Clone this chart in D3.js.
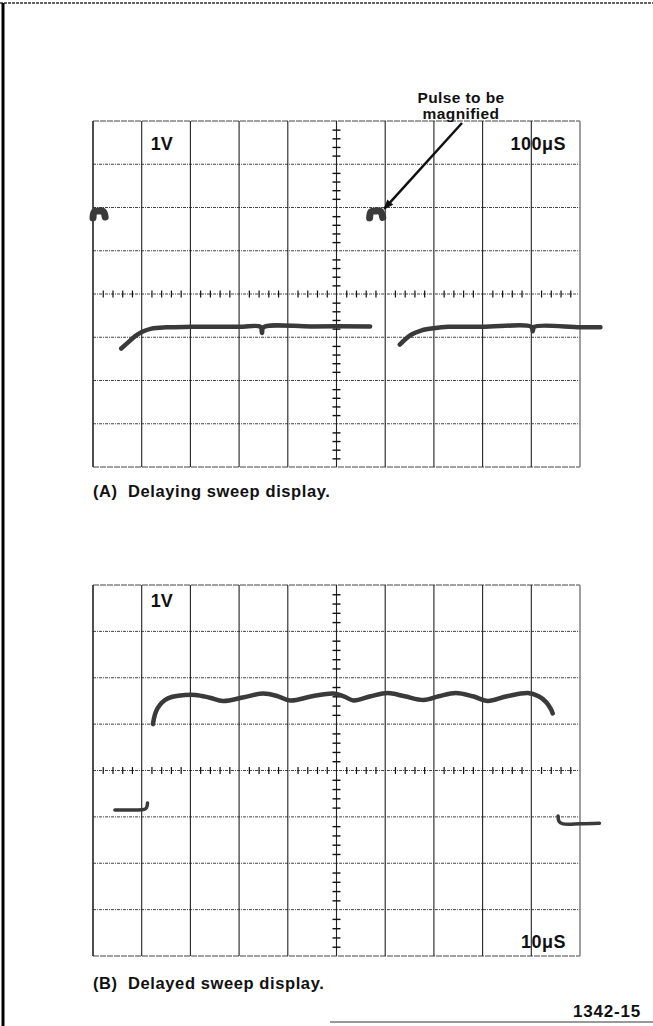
<!DOCTYPE html>
<html>
<head>
<meta charset="utf-8">
<script src="https://cdn.jsdelivr.net/npm/d3@7"></script>
<style>
	html, body { margin: 0; padding: 0; background: #fff; }
	svg { display: block; }
	text { font-family: "Liberation Sans", Arial, Helvetica, sans-serif; font-weight: bold; fill: #111; }
</style>
</head>
<body>
<div id="chart"></div>
<script>
// graticule: 10 x 8 divisions, values in divisions from screen centre
var divCols = d3.range(0, 11);
var divRows = d3.range(-4, 5);
var minorX = d3.range(-25, 26).map(function(i) { return 5 + i / 5; });
var minorY = d3.range(-20, 21).map(function(i) { return i / 5; });

// (A) delaying sweep, 1V / 100uS
var pulseA1 = [[0.00, 1.76], [0.03, 1.90], [0.12, 1.92], [0.21, 1.91], [0.25, 1.78]];
var pulseA2 = [[5.68, 1.76], [5.71, 1.90], [5.80, 1.92], [5.90, 1.91], [5.95, 1.77]];
var traceA1 = [[0.58, -1.26], [0.72, -1.12], [0.86, -0.98], [1.00, -0.88], [1.20, -0.80], [1.50, -0.77],
	[2.00, -0.76], [3.00, -0.76], [3.44, -0.76], [3.47, -0.90], [3.50, -0.77], [4.50, -0.75], [5.69, -0.75]];
var traceA2 = [[6.30, -1.17], [6.42, -1.04], [6.55, -0.93], [6.75, -0.84], [7.00, -0.79], [7.30, -0.76],
	[8.00, -0.76], [9.00, -0.76], [9.03, -0.86], [9.06, -0.76], [10.00, -0.77], [10.42, -0.77]];

// (B) delayed sweep, 1V / 10uS
var traceB = [[1.23, 1.00], [1.27, 1.20], [1.33, 1.35], [1.42, 1.47], [1.55, 1.56], [1.75, 1.61],
	[2.10, 1.63], [2.40, 1.57], [2.67, 1.50], [3.10, 1.58], [3.50, 1.66], [3.80, 1.60], [4.05, 1.51],
	[4.50, 1.60], [4.94, 1.66], [5.15, 1.60], [5.35, 1.51], [5.70, 1.60], [6.05, 1.67], [6.40, 1.60],
	[6.79, 1.52], [7.10, 1.60], [7.45, 1.67], [7.80, 1.60], [8.10, 1.50], [8.50, 1.60], [8.93, 1.67],
	[9.15, 1.60], [9.30, 1.48], [9.40, 1.33], [9.44, 1.23]];
var traceB1 = [[0.45, -0.85], [0.80, -0.85], [1.05, -0.84], [1.10, -0.80], [1.12, -0.70]];
var traceB2 = [[9.55, -0.98], [9.57, -1.10], [9.65, -1.15], [10.00, -1.15], [10.40, -1.14]];

var W = 653, H = 1026;
var svg = d3.select("#chart").append("svg").attr("width", W).attr("height", H);
svg.append("rect").attr("width", W).attr("height", H).attr("fill", "#fff");

// page frame
svg.append("line").attr("x1", 0).attr("x2", W).attr("y1", 3).attr("y2", 3)
	.attr("stroke", "#666").attr("stroke-width", 2).attr("stroke-dasharray", "3,1");
svg.append("line").attr("x1", 3).attr("x2", 3).attr("y1", 3).attr("y2", H)
	.attr("stroke", "#000").attr("stroke-width", 3);
svg.append("line").attr("x1", 330).attr("x2", W).attr("y1", 1022).attr("y2", 1022)
	.attr("stroke", "#777").attr("stroke-width", 1.5);

var lineGen = function(x, y) {
	return d3.line().curve(d3.curveCatmullRom)
		.x(function(d) { return x(d[0]); })
		.y(function(d) { return y(d[1]); });
};

function graticule(top, bottom) {
	var x = d3.scaleLinear().domain([0, 10]).range([93, 580]);
	var y = d3.scaleLinear().domain([-4, 4]).range([bottom, top]);
	var g = svg.append("g");

	g.selectAll(".hline").data(divRows).enter().append("line")
		.attr("x1", x(0)).attr("x2", x(10))
		.attr("y1", function(d) { return y(d); }).attr("y2", function(d) { return y(d); })
		.attr("stroke", "#444").attr("stroke-width", 1)
		.attr("stroke-dasharray", function(d) { return Math.abs(d) === 4 ? "6,1" : "3,1,1,1"; });

	g.selectAll(".vline").data(divCols).enter().append("line")
		.attr("y1", y(4)).attr("y2", y(-4))
		.attr("x1", function(d) { return x(d); }).attr("x2", function(d) { return x(d); })
		.attr("stroke", function(d) { return d === 10 ? "#888" : "#222"; })
		.attr("stroke-width", function(d) { return d === 0 || d === 10 ? 1.6 : 1.1; });

	// centre axes with minor ticks
	var xAxis = d3.axisBottom(x).tickValues(minorX.filter(function(v) { return v > 0 && v < 10 && v % 1 !== 0; }))
		.tickSize(7).tickFormat("");
	var ax = g.append("g").attr("transform", "translate(0," + (y(0) - 3.5) + ")").call(xAxis);
	ax.select(".domain").remove();
	ax.selectAll(".tick line").attr("stroke", "#111").attr("stroke-width", 1.2);

	var yAxis = d3.axisRight(y).tickValues(minorY.filter(function(v) { return v > -4 && v < 4 && v % 1 !== 0; }))
		.tickSize(8).tickFormat("");
	var ay = g.append("g").attr("transform", "translate(" + (x(5) - 4) + ",0)").call(yAxis);
	ay.select(".domain").remove();
	ay.selectAll(".tick line").attr("stroke", "#111").attr("stroke-width", 1.4);

	return { x: x, y: y, g: g };
}

function trace(p, data, width) {
	p.g.append("path").datum(data)
		.attr("d", lineGen(p.x, p.y))
		.attr("fill", "none")
		.attr("stroke", "#3a3a3a")
		.attr("stroke-width", width)
		.attr("stroke-linecap", "round")
		.attr("stroke-linejoin", "round");
}

// ---- (A)
var A = graticule(121, 467);
trace(A, pulseA1, 7);
trace(A, pulseA2, 7);
trace(A, traceA1, 4.5);
trace(A, traceA2, 4.5);
A.g.append("text").attr("x", A.x(1) + 9).attr("y", A.y(4) + 29).attr("font-size", 18).text("1V");
A.g.append("text").attr("x", A.x(10) - 14).attr("y", A.y(4) + 29).attr("font-size", 18)
	.attr("text-anchor", "end").attr("letter-spacing", 0.5).text("100\u03bcS");

svg.append("text").attr("x", 461).attr("y", 103).attr("font-size", 15.5).attr("text-anchor", "middle")
	.attr("letter-spacing", 0.4).text("Pulse to be");
svg.append("text").attr("x", 461).attr("y", 119).attr("font-size", 15.5).attr("text-anchor", "middle")
	.attr("letter-spacing", 0.4).text("magnified");

// arrow to the pulse
var arrowFrom = [462, 123], arrowTo = [A.x(5.98), A.y(1.9) - 3];
svg.append("defs").append("marker").attr("id", "head")
	.attr("viewBox", "0 0 10 10").attr("refX", 9).attr("refY", 5)
	.attr("markerWidth", 5).attr("markerHeight", 4).attr("orient", "auto")
	.append("path").attr("d", "M0,1 L10,5 L0,9 Z").attr("fill", "#111");
svg.append("line").attr("x1", arrowFrom[0]).attr("y1", arrowFrom[1])
	.attr("x2", arrowTo[0]).attr("y2", arrowTo[1])
	.attr("stroke", "#111").attr("stroke-width", 2.5).attr("marker-end", "url(#head)");

svg.append("text").attr("x", 93).attr("y", 497).attr("font-size", 16.5).attr("letter-spacing", 0.6)
	.attr("xml:space", "preserve").text("(A)  Delaying sweep display.");

// ---- (B)
var B = graticule(585, 956);
trace(B, traceB, 4.5);
trace(B, traceB1, 3.5);
trace(B, traceB2, 3.5);
B.g.append("text").attr("x", B.x(1) + 9).attr("y", B.y(4) + 22).attr("font-size", 18).text("1V");
B.g.append("text").attr("x", B.x(10) - 14).attr("y", B.y(-4) - 8).attr("font-size", 18)
	.attr("text-anchor", "end").attr("letter-spacing", 0.5).text("10\u03bcS");

svg.append("text").attr("x", 93).attr("y", 989).attr("font-size", 16.5).attr("letter-spacing", 0.6)
	.attr("xml:space", "preserve").text("(B)  Delayed sweep display.");
svg.append("text").attr("x", 641).attr("y", 1017).attr("font-size", 17).attr("text-anchor", "end")
	.attr("letter-spacing", 0.8).text("1342-15");
</script>
</body>
</html>
